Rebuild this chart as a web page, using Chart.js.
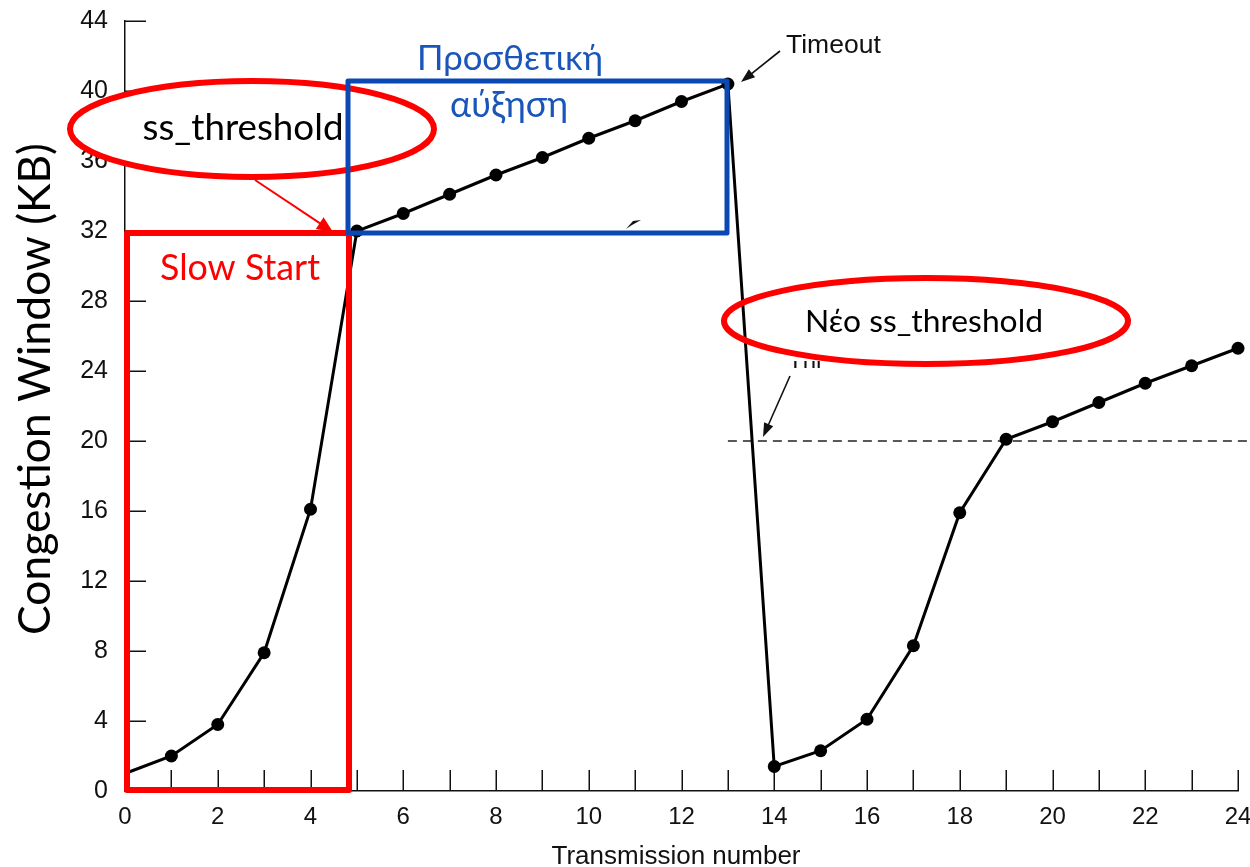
<!DOCTYPE html>
<html>
<head>
<meta charset="utf-8">
<title>TCP congestion window</title>
<script src="https://cdn.jsdelivr.net/npm/chart.js@4/dist/chart.umd.min.js"></script>
<style>
  html, body { margin: 0; padding: 0; background: #ffffff; }
  #wrap { width: 1250px; height: 867px; position: relative; }
</style>
</head>
<body>
<div id="wrap"><canvas id="cwnd"></canvas></div>
<script>
// Transmission rounds and the congestion window (KB) at each round
const transmissions = [0, 1, 2, 3, 4, 5, 6, 7, 8, 9, 10, 11, 12, 13, 14, 15, 16, 17, 18, 19, 20, 21, 22, 23, 24];
const cwndKB = [1.0, 2.0, 3.8, 7.9, 16.1, 32.0, 33.0, 34.1, 35.2, 36.2, 37.3, 38.3, 39.4, 40.4,
                1.4, 2.3, 4.1, 8.3, 15.9, 20.1, 21.1, 22.2, 23.3, 24.3, 25.3];

// New slow-start threshold after the timeout
const thresholdX = [13, 24.3];
const thresholdKB = [20, 20];

// Axis ticks
const xTicks = [0, 1, 2, 3, 4, 5, 6, 7, 8, 9, 10, 11, 12, 13, 14, 15, 16, 17, 18, 19, 20, 21, 22, 23, 24];
const xTickLabels = ['0', '', '2', '', '4', '', '6', '', '8', '', '10', '', '12', '', '14', '', '16', '', '18', '', '20', '', '22', '', '24'];
const yTicks = [0, 4, 8, 12, 16, 20, 24, 28, 32, 36, 40, 44];

const HELV = '"Liberation Sans", Arial, Helvetica, sans-serif';
const HUMAN = 'Lato, "Noto Sans", "Open Sans", sans-serif';
const RED = '#ff0000';
const BLUE = '#0a49b3';
const BLUE_TEXT = '#1a56ba';

// font size that makes `text` span `width` pixels
function fitSize(ctx, text, family, width) {
  ctx.save();
  ctx.font = '100px ' + family;
  const w = ctx.measureText(text).width;
  ctx.restore();
  return 100 * width / w;
}

function arrow(ctx, x1, y1, x2, y2, color, lw, headLen, headHalf) {
  const a = Math.atan2(y2 - y1, x2 - x1);
  ctx.save();
  ctx.strokeStyle = color;
  ctx.fillStyle = color;
  ctx.lineWidth = lw;
  ctx.beginPath();
  ctx.moveTo(x1, y1);
  ctx.lineTo(x2 - Math.cos(a) * headLen * 0.8, y2 - Math.sin(a) * headLen * 0.8);
  ctx.stroke();
  ctx.beginPath();
  ctx.moveTo(x2, y2);
  ctx.lineTo(x2 - Math.cos(a) * headLen - Math.sin(a) * headHalf, y2 - Math.sin(a) * headLen + Math.cos(a) * headHalf);
  ctx.lineTo(x2 - Math.cos(a) * headLen + Math.sin(a) * headHalf, y2 - Math.sin(a) * headLen - Math.cos(a) * headHalf);
  ctx.closePath();
  ctx.fill();
  ctx.restore();
}

function fittedText(ctx, text, family, width, cx, baseline, color) {
  const size = fitSize(ctx, text, family, width);
  ctx.save();
  ctx.font = size + 'px ' + family;
  ctx.fillStyle = color;
  ctx.textAlign = 'center';
  ctx.textBaseline = 'alphabetic';
  ctx.fillText(text, cx, baseline);
  ctx.restore();
}

const overlay = {
  id: 'overlay',
  // inward tick marks on both axes
  beforeDatasetsDraw(chart) {
    const { ctx, scales: { x, y }, chartArea: ca } = chart;
    ctx.save();
    ctx.strokeStyle = '#111';
    ctx.lineWidth = 1.5;
    ctx.beginPath();
    xTicks.forEach(v => {
      if (v === 0) return;
      const px = Math.round(x.getPixelForValue(v)) + 0.25;
      ctx.moveTo(px, ca.bottom);
      ctx.lineTo(px, ca.bottom - 21);
    });
    yTicks.forEach(v => {
      if (v === 0) return;
      const py = Math.round(y.getPixelForValue(v)) + 0.25;
      ctx.moveTo(ca.left, py);
      ctx.lineTo(ca.left + 21, py);
    });
    ctx.stroke();
    ctx.restore();
  },
  afterDatasetsDraw(chart) {
    const { ctx } = chart;

    // axis titles
    const ySize = fitSize(ctx, 'Congestion Window (KB)', HUMAN, 492);
    ctx.save();
    ctx.translate(50, 389);
    ctx.rotate(-Math.PI / 2);
    ctx.font = ySize + 'px ' + HUMAN;
    ctx.fillStyle = '#000';
    ctx.textAlign = 'center';
    ctx.textBaseline = 'alphabetic';
    ctx.fillText('Congestion Window (KB)', 0, 0);
    ctx.restore();

    ctx.save();
    ctx.font = '26px ' + HELV;
    ctx.fillStyle = '#111';
    ctx.textAlign = 'center';
    ctx.textBaseline = 'alphabetic';
    ctx.fillText('Transmission number', 676, 864);
    ctx.restore();

    // slow-start threshold callout
    ctx.save();
    ctx.beginPath();
    ctx.ellipse(252, 129, 182, 48, 0, 0, Math.PI * 2);
    ctx.fillStyle = '#fff';
    ctx.fill();
    ctx.lineWidth = 6;
    ctx.strokeStyle = RED;
    ctx.stroke();
    ctx.restore();
    fittedText(ctx, 'ss_threshold', HUMAN, 201, 243, 140, '#000');
    arrow(ctx, 255, 180, 333, 232, RED, 2, 16, 7);

    // slow start region
    ctx.save();
    ctx.strokeStyle = RED;
    ctx.lineWidth = 6;
    ctx.lineJoin = 'round';
    ctx.strokeRect(127, 233, 222, 557);
    ctx.restore();
    fittedText(ctx, 'Slow Start', HUMAN, 160, 240, 280, RED);

    // additive increase region
    ctx.save();
    ctx.strokeStyle = BLUE;
    ctx.lineWidth = 5;
    ctx.lineJoin = 'round';
    ctx.strokeRect(348, 81, 379, 152);
    ctx.restore();
    fittedText(ctx, 'Προσθετική', HUMAN, 186, 510, 70, BLUE_TEXT);
    fittedText(ctx, 'αύξηση', HUMAN, 118, 509, 117, BLUE_TEXT);

    // small arrow tip left inside the box
    ctx.save();
    ctx.fillStyle = '#111';
    ctx.beginPath();
    ctx.moveTo(626, 229);
    ctx.lineTo(633, 221);
    ctx.lineTo(641, 220);
    ctx.lineTo(632, 225);
    ctx.closePath();
    ctx.fill();
    ctx.restore();

    // timeout marker
    ctx.save();
    ctx.font = '26.5px ' + HELV;
    ctx.fillStyle = '#111';
    ctx.textAlign = 'left';
    ctx.textBaseline = 'alphabetic';
    ctx.fillText('Timeout', 786, 53);
    ctx.restore();
    arrow(ctx, 780, 51, 741, 82, '#111', 1.6, 14, 5);

    // threshold label, mostly hidden under the callout
    ctx.save();
    ctx.beginPath();
    ctx.rect(785, 361, 36, 9);
    ctx.clip();
    ctx.font = '24px ' + HELV;
    ctx.fillStyle = '#111';
    ctx.textBaseline = 'alphabetic';
    ctx.fillText('Threshold', 788, 368);
    ctx.restore();
    arrow(ctx, 790, 376, 763, 437, '#111', 1.6, 14, 5);

    // new threshold callout
    ctx.save();
    ctx.beginPath();
    ctx.ellipse(926, 321, 202, 43, 0, 0, Math.PI * 2);
    ctx.lineWidth = 6;
    ctx.strokeStyle = RED;
    ctx.stroke();
    ctx.restore();
    fittedText(ctx, 'Νέο ss_threshold', HUMAN, 238, 924, 332, '#000');
  }
};

new Chart(document.getElementById('cwnd'), {
  type: 'line',
  data: {
    datasets: [
      {
        label: 'Congestion window',
        data: transmissions.map((t, i) => ({ x: t, y: cwndKB[i] })),
        borderColor: '#000',
        backgroundColor: '#000',
        borderWidth: 3,
        pointRadius: c => (c.dataIndex === 0 ? 0 : 6.5),
        pointBackgroundColor: '#000',
        pointBorderWidth: 0,
        tension: 0,
        clip: false
      },
      {
        label: 'Threshold',
        data: thresholdX.map((t, i) => ({ x: t, y: thresholdKB[i] })),
        borderColor: '#222',
        borderWidth: 1.5,
        borderDash: [9, 6],
        pointRadius: 0,
        tension: 0,
        clip: false
      }
    ]
  },
  options: {
    responsive: true,
    maintainAspectRatio: false,
    animation: false,
    events: [],
    layout: { padding: { top: 21, right: 12, left: 0, bottom: 0 } },
    plugins: { legend: { display: false }, tooltip: { enabled: false } },
    scales: {
      x: {
        type: 'linear',
        min: 0,
        max: 24,
        afterBuildTicks: s => { s.ticks = xTicks.map(v => ({ value: v })); },
        afterFit: s => { s.height = 76; s.paddingLeft = 0; s.paddingRight = 0; },
        grid: { drawOnChartArea: false, drawTicks: false },
        border: { color: '#111', width: 1.5 },
        ticks: {
          autoSkip: false,
          maxRotation: 0,
          padding: 12,
          color: '#111',
          font: { family: HELV, size: 24 },
          callback: (v, i) => xTickLabels[i]
        }
      },
      y: {
        type: 'linear',
        min: 0,
        max: 44,
        afterBuildTicks: s => { s.ticks = yTicks.map(v => ({ value: v })); },
        afterFit: s => { s.width = 125; s.paddingTop = 0; s.paddingBottom = 0; },
        grid: { drawOnChartArea: false, drawTicks: false },
        border: { color: '#111', width: 1.5 },
        ticks: {
          padding: 17,
          color: '#111',
          font: { family: HELV, size: 25 },
          callback: v => String(v)
        }
      }
    }
  },
  plugins: [overlay]
});
</script>
</body>
</html>
